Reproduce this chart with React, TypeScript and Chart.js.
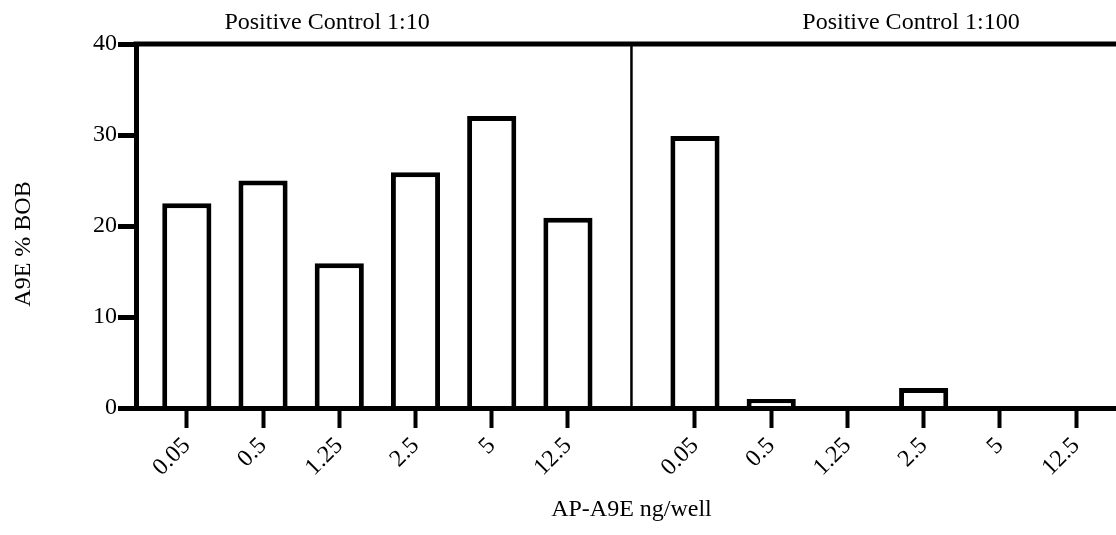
import React, { useEffect, useRef } from "react";
import { Chart, registerables } from "chart.js";

Chart.register(...registerables);

// ---- data ----
const doses = ["0.05", "0.5", "1.25", "2.5", "5", "12.5"];
const control1to10 = [22.5, 25.0, 15.9, 25.9, 32.1, 20.9];
const control1to100 = [29.9, 1.0, 0, 2.2, 0, 0];
const panelTitles = ["Positive Control 1:10", "Positive Control 1:100"];
const yTicks = [0, 10, 20, 30, 40];
const xTitle = "AP-A9E ng/well";
const yTitle = "A9E % BOB";

// ---- layout on the (linear) x axis, in category slots ----
const RIGHT_OFFSET = 6 + 2 / 3;
const leftX = doses.map((_, i) => i);
const rightX = doses.map((_, i) => i + RIGHT_OFFSET);
const allX = [...leftX, ...rightX];
const DIVIDER_X = 5 + 5 / 6;
const X_MIN = -2 / 3;
const X_MAX = 12.19;
const TITLE_X = [1.84, 9.5];

const FONT = '"Liberation Serif", "Times New Roman", serif';

const decorations = {
  id: "decorations",
  afterDatasetsDraw(chart: any) {
    const { ctx, chartArea, scales } = chart;
    const x = scales.x;
    ctx.save();
    ctx.strokeStyle = "#000";
    // top frame line
    ctx.lineWidth = 5;
    ctx.beginPath();
    ctx.moveTo(chartArea.left - 2.5, chartArea.top);
    ctx.lineTo(chartArea.right, chartArea.top);
    ctx.stroke();
    // divider between panels
    const dx = x.getPixelForValue(DIVIDER_X);
    ctx.lineWidth = 2.5;
    ctx.beginPath();
    ctx.moveTo(dx, chartArea.top);
    ctx.lineTo(dx, chartArea.bottom);
    ctx.stroke();
    // panel titles
    ctx.fillStyle = "#000";
    ctx.font = `24px ${FONT}`;
    ctx.textAlign = "center";
    ctx.textBaseline = "alphabetic";
    panelTitles.forEach((t, i) => {
      ctx.fillText(t, x.getPixelForValue(TITLE_X[i]), 29);
    });
    // axis titles
    ctx.textBaseline = "middle";
    ctx.fillText(xTitle, dx, 510);
    ctx.translate(24, 244);
    ctx.rotate(-Math.PI / 2);
    ctx.fillText(yTitle, 0, 0);
    ctx.restore();
  },
};

export default function App() {
  const ref = useRef<HTMLCanvasElement | null>(null);

  useEffect(() => {
    if (!ref.current) return;
    const barStyle = {
      backgroundColor: "#fff",
      borderColor: "#000",
      borderWidth: 5,
      borderSkipped: "start" as const,
    };
    const chart = new Chart(ref.current, {
      type: "bar",
      data: {
        datasets: [
          {
            label: panelTitles[0],
            data: leftX.map((x, i) => ({ x, y: control1to10[i] })),
            ...barStyle,
          },
          {
            label: panelTitles[1],
            data: rightX.map((x, i) => ({ x, y: control1to100[i] })),
            ...barStyle,
          },
        ],
      } as any,
      options: {
        animation: false,
        responsive: true,
        maintainAspectRatio: false,
        layout: { padding: { top: 44, left: 0, right: 0, bottom: 0 } },
        plugins: { legend: { display: false }, tooltip: { enabled: false } },
        datasets: {
          bar: { grouped: false, categoryPercentage: 1, barPercentage: 0.645 },
        } as any,
        scales: {
          x: {
            type: "linear",
            min: X_MIN,
            max: X_MAX,
            offset: false,
            afterBuildTicks: (s: any) => {
              s.ticks = allX.map((v) => ({ value: v }));
            },
            afterFit: (s: any) => {
              s.height = 127;
            },
            ticks: {
              autoSkip: false,
              minRotation: 45,
              maxRotation: 45,
              padding: 4,
              color: "#000",
              font: { family: FONT, size: 24 },
              callback: (_v: any, i: number) => doses[i % doses.length],
            },
            grid: {
              offset: false,
              drawOnChartArea: false,
              drawTicks: true,
              tickLength: 20,
              tickWidth: 4,
              tickColor: "#000",
            },
            border: { display: true, width: 5, color: "#000", z: 1 },
            title: { display: false },
          } as any,
          y: {
            min: 0,
            max: 40,
            afterBuildTicks: (s: any) => {
              s.ticks = yTicks.map((v) => ({ value: v }));
            },
            afterFit: (s: any) => {
              s.width = 136;
            },
            ticks: {
              padding: 1,
              color: "#000",
              font: { family: FONT, size: 24 },
            },
            grid: {
              drawOnChartArea: false,
              drawTicks: true,
              tickLength: 18,
              tickWidth: 5,
              tickColor: "#000",
            },
            border: { display: true, width: 5, color: "#000" },
            title: { display: false },
          } as any,
        },
      },
      plugins: [decorations],
    });
    return () => chart.destroy();
  }, []);

  return (
    <div style={{ position: "absolute", left: 0, top: 0, width: 1116, height: 535, background: "#fff" }}>
      <canvas ref={ref} />
    </div>
  );
}
